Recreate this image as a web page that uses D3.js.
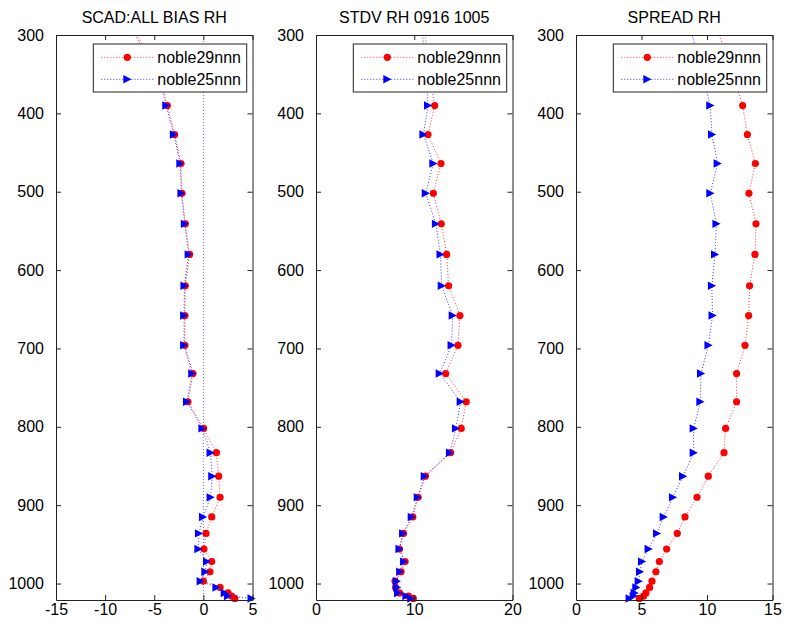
<!DOCTYPE html>
<html><head><meta charset="utf-8">
<script src="https://cdn.jsdelivr.net/npm/d3@7"></script>
<style>
html,body{margin:0;padding:0;background:#fff;}
svg{display:block;font-family:"Liberation Sans",Arial,Helvetica,sans-serif;}
</style></head>
<body>
<svg id="chart" width="792" height="621"></svg>
<script>
// ---- data ----
const levels = [250, 350, 390, 427, 464, 502, 541, 580, 620, 658, 696, 732, 768, 802, 833, 863, 890, 915, 936, 956, 972, 985, 997, 1005, 1012, 1016, 1019];

const bias29 = [-9.0, -4.5, -3.67, -2.93, -2.28, -2.18, -1.84, -1.4, -1.84, -1.88, -1.88, -1.06, -1.57, 0.03, 1.33, 1.56, 1.7, 0.85, 0.27, 0.06, 0.85, 0.67, 0.0, 1.7, 2.51, 2.86, 3.2];
const bias25 = [-9.3, -4.64, -3.78, -3.01, -2.35, -2.24, -1.89, -1.5, -1.93, -1.96, -1.96, -1.14, -1.67, -0.1, 0.73, 0.9, 0.73, -0.04, -0.45, -0.51, 0.37, 0.2, -0.28, 1.33, 2.17, 2.5, 4.9];

const stdv29 = [10.65, 11.55, 12.08, 11.4, 12.72, 11.94, 12.75, 13.3, 13.5, 14.65, 14.45, 13.2, 15.29, 14.78, 13.7, 11.13, 10.39, 9.85, 8.9, 8.49, 9.07, 8.66, 8.05, 8.1, 8.5, 9.4, 9.9];
const stdv25 = [10.5, 11.2, 11.4, 10.93, 11.94, 11.17, 12.2, 12.67, 12.79, 13.91, 13.8, 12.59, 14.72, 14.24, 13.63, 11.06, 10.35, 9.74, 8.86, 8.49, 8.96, 8.56, 8.22, 8.25, 8.35, 9.2, 9.7];

const spread29 = [9.85, 12.0, 12.72, 13.08, 13.69, 13.2, 13.74, 13.66, 13.25, 13.18, 12.9, 12.26, 12.26, 11.42, 11.3, 10.1, 9.24, 8.32, 7.73, 6.92, 6.36, 6.1, 5.8, 5.62, 5.34, 5.16, 4.83];
const spread25 = [8.1, 9.65, 10.25, 10.38, 10.81, 10.25, 10.72, 10.61, 10.37, 10.42, 10.11, 9.54, 9.49, 8.98, 8.98, 8.17, 7.4, 6.69, 6.18, 5.54, 5.04, 4.88, 4.78, 4.6, 4.47, 4.4, 4.09];

const seriesNames = ["noble29nnn", "noble25nnn"];
const titles = ["SCAD:ALL BIAS RH", "STDV RH 0916 1005", "SPREAD RH"];
const xDomains = [[-15, 5], [0, 20], [0, 15]];
const xTicks = [[-15, -10, -5, 0, 5], [0, 10, 20], [0, 5, 10, 15]];
const yDomain = [300, 1021];
const yTicks = [300, 400, 500, 600, 700, 800, 900, 1000];
const panelData = [[bias29, bias25], [stdv29, stdv25], [spread29, spread25]];

// ---- layout ----
const svg = d3.select("#chart");
const panelLeft = [56, 316, 576];
const pw = 196.5, plotTop = 35, plotBottom = 600;
const colors = ["#ff0000", "#0000ff"];
const axisColor = "#222";
const fontSize = 16;
const tickLen = 5;
const fmt = d => String(d);

const y = d3.scaleLinear().domain(yDomain).range([plotTop, plotBottom]);

const triPath = "M-4,-4.2L4.2,0L-4,4.2Z";

panelLeft.forEach((left, i) => {
  const x = d3.scaleLinear().domain(xDomains[i]).range([left, left + pw]);
  const g = svg.append("g");
  const clipId = "clip" + i;
  svg.append("clipPath").attr("id", clipId).append("rect")
    .attr("x", left).attr("y", plotTop).attr("width", pw).attr("height", plotBottom - plotTop);

  if (i === 0) {
    g.append("line").attr("x1", x(0)).attr("x2", x(0)).attr("y1", plotTop).attr("y2", plotBottom)
      .attr("stroke", colors[1]).attr("stroke-width", 0.8).attr("stroke-dasharray", "1,2")
      .attr("opacity", 0.7);
  }

  panelData[i].forEach((vals, s) => {
    const pts = levels.map((p, k) => ({p, v: vals[k]}));
    const line = d3.line().x(d => x(d.v)).y(d => y(d.p));
    g.append("path").datum(pts).attr("d", line)
      .attr("fill", "none").attr("stroke", colors[s]).attr("stroke-width", 0.8)
      .attr("stroke-dasharray", "1,2").attr("clip-path", `url(#${clipId})`);
    const vis = pts.filter(d => d.p >= yDomain[0] && d.p <= yDomain[1]);
    if (s === 0) {
      g.selectAll(null).data(vis).enter().append("circle")
        .attr("cx", d => x(d.v)).attr("cy", d => y(d.p)).attr("r", 3.6)
        .attr("fill", colors[0]);
    } else {
      g.selectAll(null).data(vis).enter().append("path")
        .attr("d", triPath)
        .attr("transform", d => `translate(${x(d.v)},${y(d.p)})`)
        .attr("fill", colors[1]);
    }
  });

  const axB = d3.axisBottom(x).tickValues(xTicks[i]).tickSizeInner(-tickLen).tickSizeOuter(0).tickPadding(12).tickFormat(fmt);
  const axT = d3.axisTop(x).tickValues(xTicks[i]).tickSizeInner(-tickLen).tickSizeOuter(0).tickFormat("");
  const axL = d3.axisLeft(y).tickValues(yTicks).tickSizeInner(-tickLen).tickSizeOuter(0).tickPadding(12).tickFormat(fmt);
  const axR = d3.axisRight(y).tickValues(yTicks).tickSizeInner(-tickLen).tickSizeOuter(0).tickFormat("");

  const gb = svg.append("g").attr("transform", `translate(0,${plotBottom})`).call(axB);
  const gt = svg.append("g").attr("transform", `translate(0,${plotTop})`).call(axT);
  const gl = svg.append("g").attr("transform", `translate(${left},0)`).call(axL);
  const gr = svg.append("g").attr("transform", `translate(${left + pw},0)`).call(axR);
  [gb, gt, gl, gr].forEach(a => {
    a.selectAll("path.domain").attr("stroke", axisColor).attr("stroke-width", 1);
    a.selectAll(".tick line").attr("stroke", axisColor).attr("stroke-width", 1);
    a.selectAll(".tick text").attr("fill", "#000").attr("font-size", fontSize)
      .attr("font-family", "\"Liberation Sans\",Arial,Helvetica,sans-serif");
  });
  // place x labels so they end just above the picture's bottom edge
  gb.selectAll(".tick text").attr("dy", "0.2em");

  svg.append("text").attr("x", left + pw / 2).attr("y", 23)
    .attr("text-anchor", "middle").attr("font-size", fontSize).attr("fill", "#000")
    .text(titles[i]);

  const lx = left + 37.3, ly = plotTop + 9, lw = 153.4, lh = 48;
  const lg = svg.append("g");
  lg.append("rect").attr("x", lx).attr("y", ly).attr("width", lw).attr("height", lh)
    .attr("fill", "#fff").attr("stroke", axisColor).attr("stroke-width", 1);
  seriesNames.forEach((name, s) => {
    const ry = ly + 13.3 + s * 22;
    lg.append("line").attr("x1", lx + 8).attr("x2", lx + 62).attr("y1", ry).attr("y2", ry)
      .attr("stroke", colors[s]).attr("stroke-width", 0.8).attr("stroke-dasharray", "1,2");
    if (s === 0) {
      lg.append("circle").attr("cx", lx + 34).attr("cy", ry).attr("r", 3.6).attr("fill", colors[0]);
    } else {
      lg.append("path").attr("d", triPath).attr("transform", `translate(${lx + 34},${ry})`).attr("fill", colors[1]);
    }
    lg.append("text").attr("x", lx + 64).attr("y", ry).attr("dy", "0.35em")
      .attr("font-size", fontSize).attr("fill", "#000").text(name);
  });
});
</script>
</body></html>
